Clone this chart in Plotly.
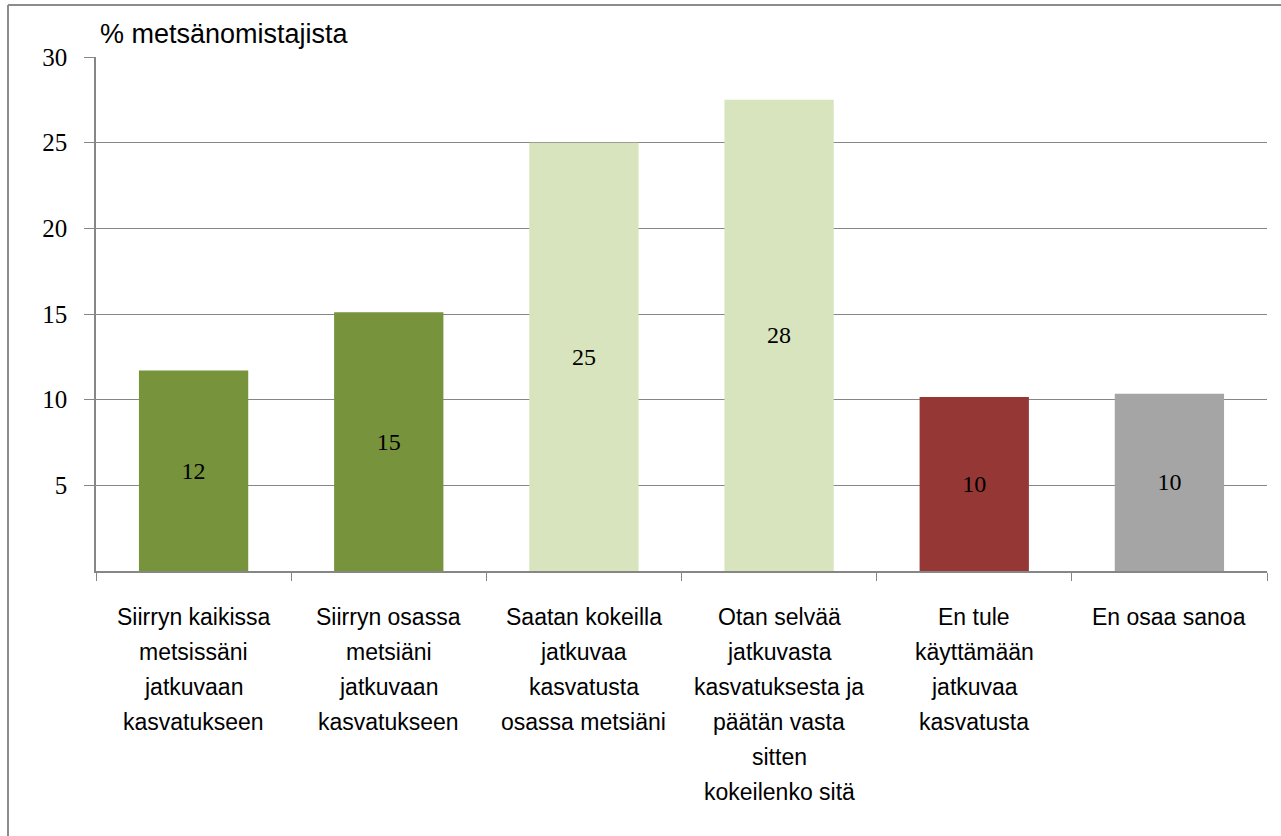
import plotly.graph_objects as go

categories = [
    "Siirryn kaikissa<br>metsissäni<br>jatkuvaan<br>kasvatukseen",
    "Siirryn osassa<br>metsiäni<br>jatkuvaan<br>kasvatukseen",
    "Saatan kokeilla<br>jatkuvaa<br>kasvatusta<br>osassa metsiäni",
    "Otan selvää<br>jatkuvasta<br>kasvatuksesta ja<br>päätän vasta<br>sitten<br>kokeilenko sitä",
    "En tule<br>käyttämään<br>jatkuvaa<br>kasvatusta",
    "En osaa sanoa",
]
values = [11.7, 15.1, 25.0, 27.5, 10.15, 10.35]
value_labels = ["12", "15", "25", "28", "10", "10"]
bar_colors = ["#77933C", "#77933C", "#D7E4BD", "#D7E4BD", "#953735", "#A5A5A5"]
y_ticks = [5, 10, 15, 20, 25, 30]

sans = "Liberation Sans Narrow, Arial Narrow, Liberation Sans, sans-serif"
serif = "Liberation Serif, DejaVu Serif, serif"

fig = go.Figure(go.Bar(
    x=categories, y=values, marker=dict(color=bar_colors, line=dict(width=0)),
    text=value_labels, textposition="inside", insidetextanchor="middle",
    textfont=dict(family=serif, size=24, color="#000000"), textangle=0,
    hoverinfo="skip",
))

# plot area: x 96..1267, y 57..571 in pixels
W, H = 1281, 836
L, R, T, B = 96, 14, 57, 265
pw, ph = W - L - R, H - T - B

# category labels drawn line by line to get the wider line spacing
annotations = []
for cat in categories:
    for i, line in enumerate(cat.split("<br>")):
        annotations.append(dict(
            text=line, x=cat, xref="x", yref="paper",
            y=-(46 + 35 * i) / ph, xanchor="center", yanchor="middle",
            showarrow=False, font=dict(family=sans, size=23),
        ))
annotations.append(dict(
    text="% metsänomistajista", xref="paper", yref="paper",
    x=(98 - L) / pw, y=(H - B - 34) / ph, xanchor="left", yanchor="middle",
    showarrow=False, font=dict(family=sans, size=27),
))

fig.update_layout(
    width=W, height=H, margin=dict(l=L, r=R, t=T, b=B),
    plot_bgcolor="white", paper_bgcolor="white", showlegend=False,
    bargap=0.44,
    font=dict(family=sans, size=23, color="#000000"),
    xaxis=dict(
        showline=True, linecolor="#868686", linewidth=1.5,
        ticks="outside", tickson="boundaries", ticklen=8, tickcolor="#868686",
        showticklabels=False,
    ),
    yaxis=dict(
        range=[0, 30], tickvals=y_ticks, showgrid=True, gridcolor="#868686", gridwidth=1,
        showline=True, linecolor="#868686", linewidth=1.5,
        ticks="outside", ticklen=10, tickcolor="#868686",
        tickfont=dict(family=serif, size=25), zeroline=False, ticklabelstandoff=12,
    ),
    annotations=annotations,
    shapes=[
        dict(type="line", xref="paper", yref="paper",
             x0=(8 - L) / pw, x1=(W + 5 - L) / pw,
             y0=(H - B - 5) / ph, y1=(H - B - 5) / ph,
             line=dict(color="#8C8C8C", width=2)),
        dict(type="line", xref="paper", yref="paper",
             x0=(8 - L) / pw, x1=(8 - L) / pw,
             y0=(H - B - 5) / ph, y1=(H - B - H - 5) / ph,
             line=dict(color="#8C8C8C", width=2)),
    ],
)

fig.write_html("out.html", config={"displayModeBar": False},
               post_script="document.body.style.margin='0px';")
